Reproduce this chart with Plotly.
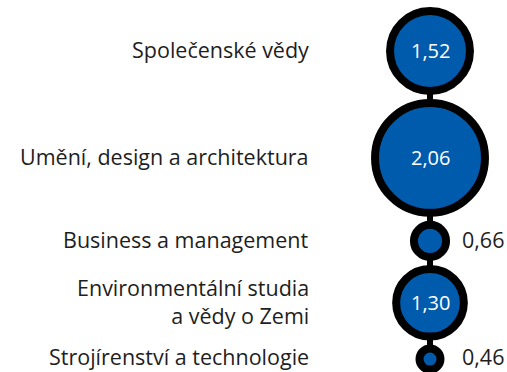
import plotly.graph_objects as go

# ---- data ---------------------------------------------------------------
categories = [
    "Společenské vědy",
    "Umění, design a architektura",
    "Business a management",
    "Environmentální studia<br>a vědy o Zemi",
    "Strojírenství a technologie",
]
values = [1.52, 2.06, 0.66, 1.30, 0.46]

# ---- style --------------------------------------------------------------
W, H = 507, 372
BLUE = "#005BAC"
INK = "#000000"
TEXT = "#1E1E1E"
FONT = "Open Sans"
BORDER = 8          # ring width in px
PX_PER_UNIT = 27.8  # outer radius per value unit
GAP = 4
TOP = 7
CX = 430
LABEL_X = 311


def fmt(v):
    return f"{v:.2f}".replace(".", ",")


# outer radius of each bubble, then stack them top-down
radii = [PX_PER_UNIT * v + 1.7 for v in values]
centers = []
y = TOP
for i, r in enumerate(radii):
    if i:
        y += GAP
    centers.append(y + r)
    y += 2 * r

fig = go.Figure()

# connector line behind the bubbles
fig.add_trace(go.Scatter(
    x=[CX] * len(centers), y=centers,
    mode="lines", line=dict(color=INK, width=6),
    hoverinfo="skip", showlegend=False,
))

fig.add_trace(go.Scatter(
    x=[CX] * len(centers), y=centers,
    mode="markers",
    marker=dict(
        size=[2 * r - BORDER for r in radii],
        sizemode="diameter",
        color=BLUE,
        line=dict(color=INK, width=BORDER),
        opacity=1,
    ),
    hoverinfo="skip", showlegend=False,
))

annotations = []
for cat, v, cy in zip(categories, values, centers):
    ty = min(cy - 1, H - 16)  # keep the last row inside the page
    annotations.append(dict(
        x=LABEL_X, y=ty, text=cat, showarrow=False,
        xanchor="right", yanchor="middle", align="right",
        font=dict(family=FONT, size=21.5, color=TEXT),
    ))
    if v >= 1:
        annotations.append(dict(
            x=CX, y=cy, text=fmt(v), showarrow=False,
            xanchor="center", yanchor="middle",
            font=dict(family=FONT, size=20, color="white"),
        ))
    else:
        annotations.append(dict(
            x=460, y=ty, text=fmt(v), showarrow=False,
            xanchor="left", yanchor="middle",
            font=dict(family=FONT, size=21.5, color=TEXT),
        ))

fig.update_layout(
    width=W, height=H,
    margin=dict(l=0, r=0, t=0, b=0),
    paper_bgcolor="white", plot_bgcolor="white",
    xaxis=dict(range=[0, W], visible=False, fixedrange=True),
    yaxis=dict(range=[H, 0], visible=False, fixedrange=True),
    annotations=annotations,
    showlegend=False,
)

# page body has a default 8px margin; drop it so the figure fills the window
fig.write_html(
    "out.html",
    config={"displayModeBar": False, "staticPlot": True},
    post_script="document.body.style.margin='0';",
)
